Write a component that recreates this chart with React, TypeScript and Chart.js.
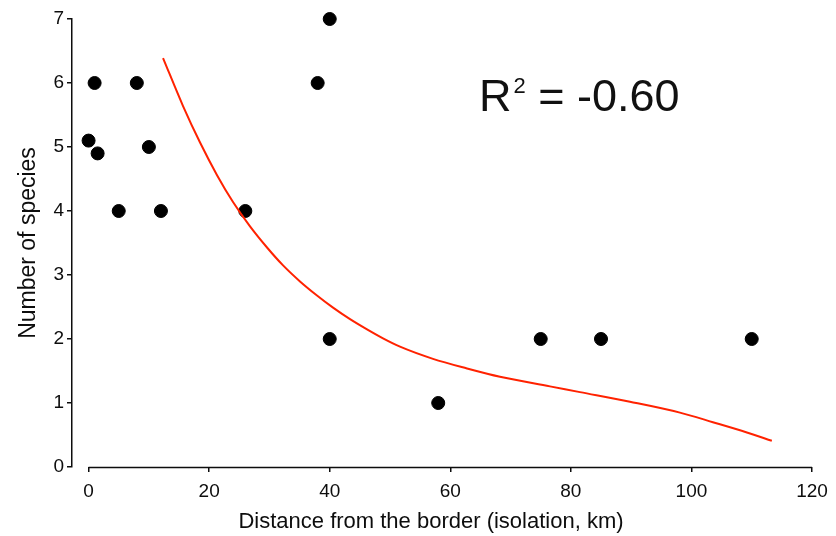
import React, { useEffect, useRef } from "react";
import { Chart, registerables } from "chart.js";

Chart.register(...registerables);

// Observed islands: distance from border (km) and number of species
const DIST = [0, 1, 1.5, 8, 5, 10, 12, 26, 38, 40, 40, 58, 75, 85, 110];
const SPECIES = [5.1, 6, 4.9, 6, 4, 5, 4, 4, 6, 7, 2, 1, 2, 2, 2];

// Fitted curve
const FIT_X = [12.35, 15.67, 18.49, 21.31, 23.96, 26.78, 29.6, 32.26, 35.07, 37.89, 40.55, 43.37, 46.19, 48.84, 51.66, 57.13, 62.77, 68.24, 76.53, 81.51, 89.8, 98.09, 103.56, 109.2, 113.34];
const FIT_Y = [6.39, 5.64, 5.07, 4.56, 4.14, 3.76, 3.43, 3.15, 2.9, 2.68, 2.49, 2.31, 2.15, 2.01, 1.88, 1.69, 1.54, 1.41, 1.26, 1.17, 1.02, 0.85, 0.7, 0.54, 0.41];

const X_TICKS = [0, 20, 40, 60, 80, 100, 120];
const Y_TICKS = [0, 1, 2, 3, 4, 5, 6, 7];

const X_TITLE = "Distance from the border (isolation, km)";
const Y_TITLE = "Number of species";
const R2_LABEL = ["R", "2", " = -0.60"];

const FONT = "'Liberation Sans', Arial, Helvetica, sans-serif";
const INK = "#0d0d0d";

const extrasPlugin = {
  id: "extras",
  afterDraw(chart: any) {
    const ctx = chart.ctx;
    const x = chart.scales.x;
    const area = chart.chartArea;
    ctx.save();
    // x axis line from first to last tick
    ctx.strokeStyle = INK;
    ctx.lineWidth = 1.5;
    ctx.beginPath();
    ctx.moveTo(x.getPixelForValue(X_TICKS[0]), area.bottom + 0.5);
    ctx.lineTo(x.getPixelForValue(X_TICKS[X_TICKS.length - 1]), area.bottom + 0.5);
    ctx.stroke();

    // x axis title
    ctx.fillStyle = INK;
    ctx.font = `22px ${FONT}`;
    ctx.textAlign = "center";
    ctx.textBaseline = "middle";
    ctx.fillText(X_TITLE, 431, 522);

    // R^2 annotation
    ctx.fillStyle = "#111111";
    ctx.textBaseline = "alphabetic";
    ctx.textAlign = "left";
    let tx = 479;
    const base = 111;
    ctx.font = `45px ${FONT}`;
    ctx.fillText(R2_LABEL[0], tx, base);
    tx += ctx.measureText(R2_LABEL[0]).width + 2;
    ctx.font = `22px ${FONT}`;
    ctx.fillText(R2_LABEL[1], tx, base - 18);
    tx += ctx.measureText(R2_LABEL[1]).width;
    ctx.font = `45px ${FONT}`;
    ctx.fillText(R2_LABEL[2], tx, base);
    ctx.restore();
  },
};

export default function App() {
  const ref = useRef<HTMLCanvasElement | null>(null);

  useEffect(() => {
    if (!ref.current) return;
    const chart = new Chart(ref.current, {
      type: "scatter",
      data: {
        datasets: [
          {
            label: "Islands",
            data: DIST.map((d, i) => ({ x: d, y: SPECIES[i] })),
            backgroundColor: "#000000",
            borderColor: "#000000",
            pointRadius: 6.5,
            pointHoverRadius: 6.5,
            clip: false,
            order: 2,
          } as any,
          {
            label: "Fit",
            data: FIT_X.map((d, i) => ({ x: d, y: FIT_Y[i] })),
            showLine: true,
            borderColor: "#ff2200",
            borderWidth: 2,
            pointRadius: 0,
            cubicInterpolationMode: "monotone",
            fill: false,
            clip: false,
            order: 1,
          } as any,
        ],
      },
      options: {
        responsive: false,
        animation: false,
        layout: { padding: { left: 0, top: 19, right: 24, bottom: 0 } },
        plugins: { legend: { display: false }, tooltip: { enabled: false } },
        scales: {
          x: {
            type: "linear",
            min: -2.75,
            max: 120,
            afterBuildTicks: (s: any) => {
              s.ticks = X_TICKS.map((v) => ({ value: v }));
            },
            afterFit: (s: any) => {
              s.height = 69;
            },
            border: { display: false },
            grid: {
              drawOnChartArea: false,
              drawTicks: true,
              tickLength: 5,
              color: INK,
              lineWidth: 1.5,
            },
            ticks: {
              color: INK,
              font: { family: FONT, size: 19 },
              padding: 8,
              maxRotation: 0,
              callback: (v: any) => String(v),
            },
            title: { display: false },
          },
          y: {
            type: "linear",
            min: 0,
            max: 7,
            afterBuildTicks: (s: any) => {
              s.ticks = Y_TICKS.map((v) => ({ value: v }));
            },
            afterFit: (s: any) => {
              s.width = 72;
            },
            border: { display: true, color: INK, width: 1.5 },
            grid: {
              drawOnChartArea: false,
              drawTicks: true,
              tickLength: 5,
              color: INK,
              lineWidth: 1.5,
            },
            ticks: {
              color: INK,
              font: { family: FONT, size: 19 },
              padding: 3,
              callback: (v: any) => String(v),
            },
            title: {
              display: true,
              text: Y_TITLE,
              color: INK,
              font: { family: FONT, size: 23 },
              padding: { top: 15, bottom: 0 },
            },
          },
        },
      },
      plugins: [extrasPlugin],
    });
    return () => chart.destroy();
  }, []);

  return (
    <div style={{ position: "absolute", left: 0, top: 0, width: 836, height: 536, background: "#ffffff" }}>
      <canvas ref={ref} width={836} height={536} style={{ width: 836, height: 536 }} />
    </div>
  );
}
